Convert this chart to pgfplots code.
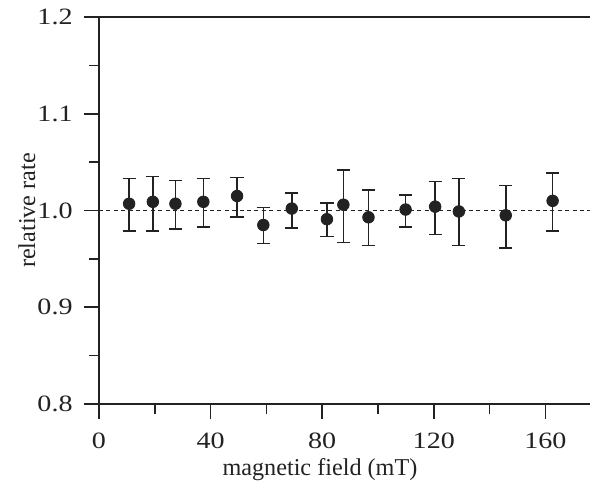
\documentclass[border=0pt]{standalone}
\usepackage{fontspec}
\setmainfont{Liberation Serif}
\newfontfamily\tickfont{Liberation Serif}[FakeStretch=1.2]
\usepackage{pgfplots}
\usepackage{pgfplotstable}
\pgfplotsset{compat=1.18}

% field (mT), relative rate, upper and lower error
\pgfplotstableread{
x      y      ep     em
10.8   1.007  0.026  0.028
19.3   1.009  0.026  0.030
27.4   1.007  0.024  0.026
37.4   1.009  0.024  0.026
49.5   1.015  0.019  0.022
58.9   0.985  0.018  0.019
69.1   1.002  0.016  0.020
81.7   0.991  0.017  0.018
87.6   1.006  0.036  0.039
96.6   0.993  0.028  0.029
109.9  1.001  0.015  0.018
120.5  1.004  0.026  0.029
129.0  0.999  0.034  0.035
145.8  0.995  0.031  0.034
162.6  1.010  0.029  0.031
}\ratedata

\definecolor{ink}{HTML}{222222}

\begin{document}
\fontsize{12}{14}\selectfont
\begin{tikzpicture}
\useasboundingbox (-49.5pt,-40pt) rectangle (245.5pt,202pt);
\begin{axis}[
    scale only axis,
    width=245.5pt, height=193.5pt,
    xmin=0, xmax=176,
    ymin=0.8, ymax=1.2,
    axis lines=left,
    axis line style={-, ink, line width=0.8pt},
    xtick={0,40,...,160},
    minor xtick={20,60,...,140},
    ytick={0.8,0.9,1.0,1.1,1.2},
    minor ytick={0.85,0.95,1.05,1.15},
    /pgf/number format/assume math mode=true,
    tick align=outside,
    major tick length=7.5pt,
    minor tick length=5pt,
    every tick/.style={ink, line width=0.8pt},
    tick label style={font=\tickfont\fontsize{11.7}{14}\selectfont, text=ink},
    xticklabel style={yshift=-3pt},
    yticklabel style={xshift=-1.5pt, /pgf/number format/.cd, fixed, fixed zerofill, precision=1},
    xlabel={magnetic field (mT)},
    ylabel={relative rate},
    label style={font=\fontsize{12.1}{14}\selectfont, text=ink},
    x label style={at={(axis description cs:0.45,0)}, anchor=north, yshift=-23pt},
    y label style={at={(axis description cs:-0.147,0.5)}, anchor=center},
    clip=false,
]
\draw[ink, line width=0.8pt] (rel axis cs:0,1) -- (rel axis cs:1,1);
\addplot[ink, line width=0.9pt, dash pattern=on 2pt off 1.7pt] coordinates {(0,1) (176,1)};
\addplot[
    only marks, mark=*, mark size=2.9pt, ink,
    mark options={fill=ink, draw=ink},
    error bars/.cd, y dir=both, y explicit,
    error mark options={rotate=90, mark size=3.3pt, line width=0.8pt, ink},
    error bar style={line width=0.8pt, ink},
] table[x=x, y=y, y error plus=ep, y error minus=em] {\ratedata};
\end{axis}
\end{tikzpicture}
\end{document}
